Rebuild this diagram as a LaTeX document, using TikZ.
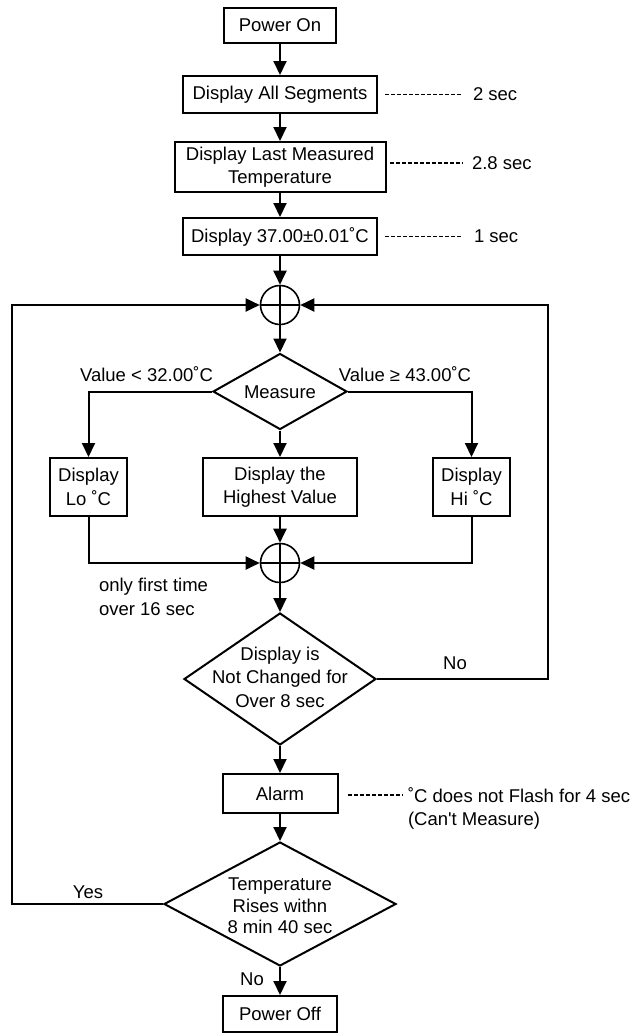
\documentclass[tikz,border=0pt]{standalone}
\usepackage{fontspec}
\setmainfont{Liberation Sans}[Ligatures=TeXOff]
\usetikzlibrary{arrows.meta,shapes.geometric}
\begin{document}
\begin{tikzpicture}[x=1pt,y=-1pt,
  font=\fontsize{18.5}{23.5}\selectfont,
  line width=2pt,
  box/.style={draw, rectangle, inner sep=0pt, align=center, line width=2pt},
  dec/.style={draw, diamond, inner sep=0pt, line width=2pt},
  junc/.style={draw, circle, inner sep=0pt, minimum size=39pt, line width=1.6pt},
  arr/.style={-{Triangle[length=14pt,width=13pt]}, line width=2pt},
  dsh/.style={line width=1.4pt, dash pattern=on 4pt off 2pt},
  lbl/.style={inner sep=0pt, anchor=west, align=left}
  ]
\useasboundingbox (0,0) rectangle (635,1034);

% main column
\node[box, minimum width=112pt, minimum height=35pt] (pon) at (280,25.5) {Power On};
\node[box, minimum width=194pt, minimum height=37pt] (das) at (280,94.5) {Display All Segments};
\node[box, minimum width=211pt, minimum height=50pt] (dlm) at (280,167) {Display Last Measured\\Temperature};
\node[box, minimum width=194pt, minimum height=37pt] (d37) at (280,236.5) {Display 37.00±0.01˚C};
\node[junc] (c1) at (280,305) {};
\node[dec, minimum width=134pt, minimum height=76pt] (m) at (280,391.5) {};
\node (mt) at (280,392) {Measure};
\node[box, minimum width=77pt, minimum height=58pt] (lo) at (88.5,487) {Display\\Lo ˚C};
\node[box, minimum width=154pt, minimum height=58pt] (hv) at (280,487) {Display the\\Highest Value};
\node[box, minimum width=77pt, minimum height=58pt] (hi) at (471.5,487) {Display\\Hi ˚C};
\node[junc] (c2) at (280,563) {};
\node[dec, minimum width=192pt, minimum height=132pt] (d2) at (280,679) {};
\node[align=center] (d2t) at (280,677) {Display is\\Not Changed for\\Over 8 sec};
\node[box, minimum width=115pt, minimum height=39pt] (al) at (280,793.5) {Alarm};
\node[dec, minimum width=232pt, minimum height=124pt] (d3) at (280,904) {};
\node[align=center, font=\fontsize{18.5}{21.5}\selectfont] (d3t) at (280,906) {Temperature\\Rises withn\\8 min 40 sec};
\node[box, minimum width=114pt, minimum height=36pt] (poff) at (280,1014) {Power Off};

\coordinate (rt) at (548,305);
\coordinate (lt) at (12,305);

% labels
\node[lbl] (l1) at (472,94.5) {2 sec};
\node[lbl] (l2) at (471,163) {2.8 sec};
\node[lbl] (l3) at (473,236.5) {1 sec};
\node (vlo) at (146.5,374) {Value < 32.00˚C};
\node (vhi) at (405,374) {Value ≥ 43.00˚C};
\node[lbl] (oft) at (98,597) {only first time\\over 16 sec};
\node (no1) at (455,663) {No};
\node[lbl] (cdn1) at (407,795) {˚C does not Flash for 4 sec};
\node[lbl] (cdn2) at (407,821) {(Can't Measure)};
\node (yes) at (88,892) {Yes};
\node (no2) at (252,979) {No};

% connectors
\draw[arr] (pon) -- (das);
\draw[arr] (das) -- (dlm);
\draw[arr] (dlm) -- (d37);
\draw[arr] (d37) -- (c1);
\draw[arr] (c1) -- (m);
\draw[arr] (m.west) -| (lo.north);
\draw[arr] (m.east) -| (hi.north);
\draw[arr] (m) -- (hv);
\draw[arr] (lo.south) |- (c2.west);
\draw[arr] (hi.south) |- (c2.east);
\draw[arr] (hv) -- (c2);
\draw[arr] (c2) -- (d2);
\draw[arr] (d2.east) -| (rt) -- (c1.east);
\draw[arr] (d3.west) -| (lt) -- (c1.west);
\draw[arr] (d2) -- (al);
\draw[arr] (al) -- (d3);
\draw[arr] (d3) -- (poff);

% junction crosses
\draw[line width=1.6pt] (c1.north) -- (c1.south) (c1.west) -- (c1.east);
\draw[line width=1.6pt] (c2.north) -- (c2.south) (c2.west) -- (c2.east);

% dashed notes
\draw[dsh] ([xshift=7pt]das.east) -- ([xshift=-10pt]l1.west);
\draw[dsh] ([xshift=3pt,yshift=4pt]dlm.east) -- ([xshift=-9pt]l2.west);
\draw[dsh] ([xshift=7pt]d37.east) -- ([xshift=-11pt]l3.west);
\draw[dsh] ([xshift=9pt,yshift=-1.5pt]al.east) -- ([xshift=-4pt]cdn1.west);
\end{tikzpicture}
\end{document}
